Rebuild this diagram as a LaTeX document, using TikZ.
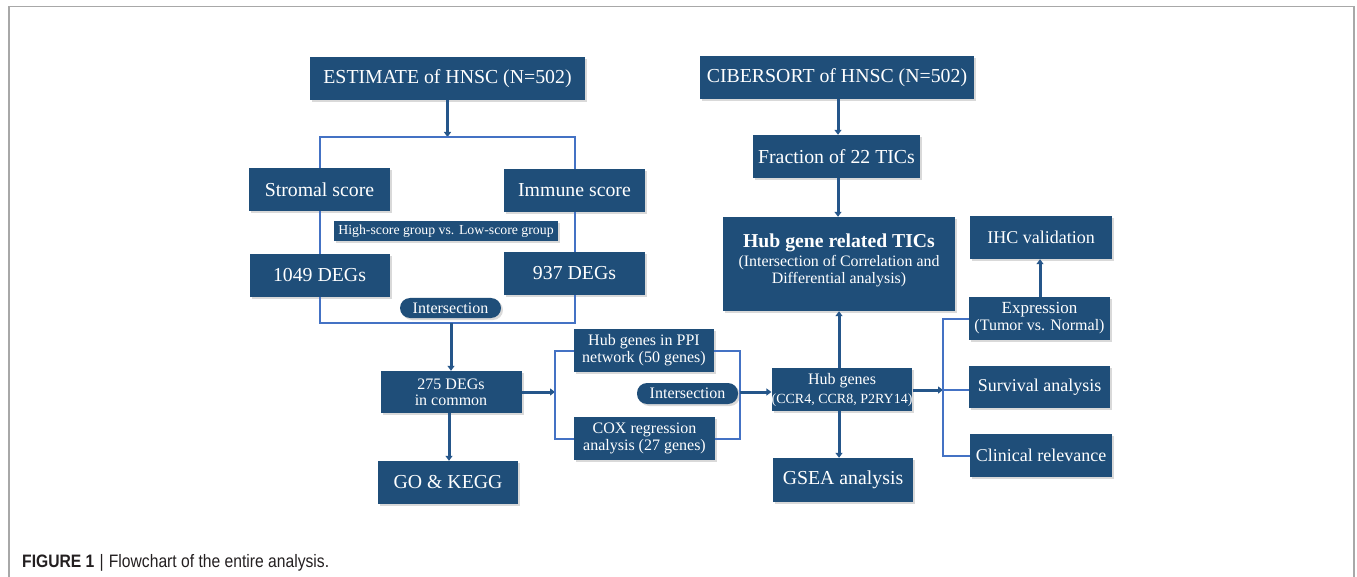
\documentclass[tikz,border=0pt]{standalone}
\usepackage{fontspec}
\setmainfont{Liberation Serif}
\newfontfamily\capfont{Liberation Sans}
\usetikzlibrary{arrows.meta,shadows,positioning}
\definecolor{boxblue}{HTML}{1F4E79}
\definecolor{arrblue}{HTML}{25568A}
\definecolor{lineblue}{HTML}{4472C4}
\definecolor{framegray}{HTML}{A8A8A8}
\definecolor{captext}{HTML}{231F20}
\tikzset{
  box/.style={fill=boxblue, text=white, inner sep=0pt, align=center,
    drop shadow={shadow xshift=2pt, shadow yshift=-2pt, opacity=0.3, fill=gray}},
  pill/.style={box, rounded corners=10pt},
  arr/.style={draw=arrblue, line width=3pt, -{Triangle[length=5pt,width=7pt]}},
  brk/.style={draw=lineblue, line width=2pt},
  fA/.style={font=\fontsize{19.8}{21}\selectfont},
  fB/.style={font=\fontsize{18}{20}\selectfont},
  fC/.style={font=\fontsize{16}{17}\selectfont},
  fD/.style={font=\fontsize{13.8}{15}\selectfont},
}
\begin{document}
\begin{tikzpicture}[x=1pt,y=-1pt]
\useasboundingbox (0,0) rectangle (1357,577);
\draw[framegray, line width=1.3pt] (9,577) -- (9,6.5) -- (1354,6.5) -- (1354,577);

% left column
\node[box,fA,minimum width=275pt,minimum height=43pt] (est) at (447.5,78.5) {ESTIMATE of HNSC (N=502)};
\node[box,fA,minimum width=141pt,minimum height=43pt] (strom) at (319.5,189.5) {Stromal score};
\node[box,fA,minimum width=141pt,minimum height=43pt] (imm) at (574.5,190.5) {Immune score};
\node[box,fA,minimum width=140pt,minimum height=43pt] (d1049) at (319.5,275.5) {1049 DEGs};
\node[box,fA,minimum width=141pt,minimum height=43pt] (d937) at (574.5,273.5) {937 DEGs};
\node[box,font=\fontsize{16}{16}\selectfont,minimum width=141pt,minimum height=42pt] (d275) at (451,392) {275 DEGs\\in common};
\node[box,fA,minimum width=140pt,minimum height=43pt] (go) at (448,482.5) {GO \& KEGG};

% middle column
\node[box,fC,minimum width=140pt,minimum height=43pt] (ppi) at (644,350.5) {Hub genes in PPI\\network (50 genes)};
\node[box,fC,minimum width=141pt,minimum height=43pt] (cox) at (644.5,438.5) {COX regression\\analysis (27 genes)};

% right part
\node[box,fA,minimum width=274pt,minimum height=43pt] (cib) at (837,77.5) {CIBERSORT of HNSC (N=502)};
\node[box,fA,minimum width=167pt,minimum height=43pt] (frac) at (836.5,156.5) {Fraction of 22 TICs};
\node[box,font=\fontsize{15.9}{16.5}\selectfont,minimum width=232pt,minimum height=94pt] (tics) at (839,264) {};
\node[text=white,align=center,inner sep=0pt,font=\fontsize{15.9}{16.5}\selectfont] (ticstext) at (839,260)
  {{\fontsize{19.7}{21}\selectfont\bfseries Hub gene related TICs}\\[3pt]
   (Intersection of Correlation and\\
   Differential analysis)};
\node[box,font=\fontsize{14}{19}\selectfont,minimum width=140pt,minimum height=43pt] (hub) at (842,389.5)
  {{\fontsize{16}{19}\selectfont Hub genes}\\(CCR4, CCR8, P2RY14)};
\node[box,fA,minimum width=140pt,minimum height=44pt] (gsea) at (843,480) {GSEA analysis};
\node[box,fB,minimum width=142pt,minimum height=43pt] (ihc) at (1041,237.5) {IHC validation};
\node[box,font=\fontsize{16}{17}\selectfont,minimum width=141pt,minimum height=43pt] (expr) at (1039.5,318.5)
  {{\fontsize{17}{17}\selectfont Expression}\\(Tumor vs. Normal)};
\node[box,fB,minimum width=141pt,minimum height=42pt] (surv) at (1039.5,387) {Survival analysis};
\node[box,fB,minimum width=142pt,minimum height=43pt] (clin) at (1041,455.5) {Clinical relevance};

% connectors left column
\coordinate (b1) at (447.5,137);
\draw[arr] (est.south) -- (b1);
\draw[brk] (strom.north) |- (b1) -| (imm.north);
\draw[brk] (strom.south) -- (d1049.north);
\draw[brk] (imm.south) -- (d937.north);
\node[box,fD,minimum width=224pt,minimum height=20pt] (hl) at (446,231) {High-score group vs. Low-score group};
\coordinate (b2) at (451,323);
\draw[brk] (d1049.south) |- (b2) -| (d937.south);
\node[pill,fC,minimum width=101pt,minimum height=20pt] (int1) at (450.5,308) {Intersection};
\draw[arr] (b2) -- (d275.north);
\draw[arr] (d275.south -| 449,0) -- (go.north -| 449,0);

% middle connectors
\coordinate (b3) at (555,392);
\draw[arr] (d275.east) -- (b3);
\draw[brk] (ppi.west) -| (b3) |- (cox.west);
\coordinate (b4) at (740,392);
\draw[brk] (ppi.east) -| (b4) |- (cox.east);
\node[pill,fC,minimum width=101pt,minimum height=21pt] (int2) at (687.5,393.5) {Intersection};
\draw[arr] (b4) -- (b4 -| hub.west);

% right connectors
\draw[arr] (cib.south -| 838,0) -- (frac.north -| 838,0);
\draw[arr] (frac.south -| 838,0) -- (tics.north -| 838,0);
\draw[arr] (hub.north -| 839,0) -- (tics.south -| 839,0);
\draw[arr] (hub.south -| 839,0) -- (gsea.north -| 839,0);
\coordinate (b5) at (943,390);
\draw[arr] (hub.east |- b5) -- (b5);
\draw[brk] (expr.west) -| (b5) |- (clin.west);
\draw[brk] (b5) -- (b5 -| surv.west);
\draw[arr] (expr.north -| 1040,0) -- (ihc.south -| 1040,0);

% caption
\node[anchor=base west, inner sep=0pt, text=captext, font=\capfont\fontsize{18}{20}\selectfont] (cap) at (22,567)
  {\scalebox{0.87}[1]{\textbf{FIGURE 1}\,\,|\,\,Flowchart of the entire analysis.}};
\end{tikzpicture}
\end{document}
